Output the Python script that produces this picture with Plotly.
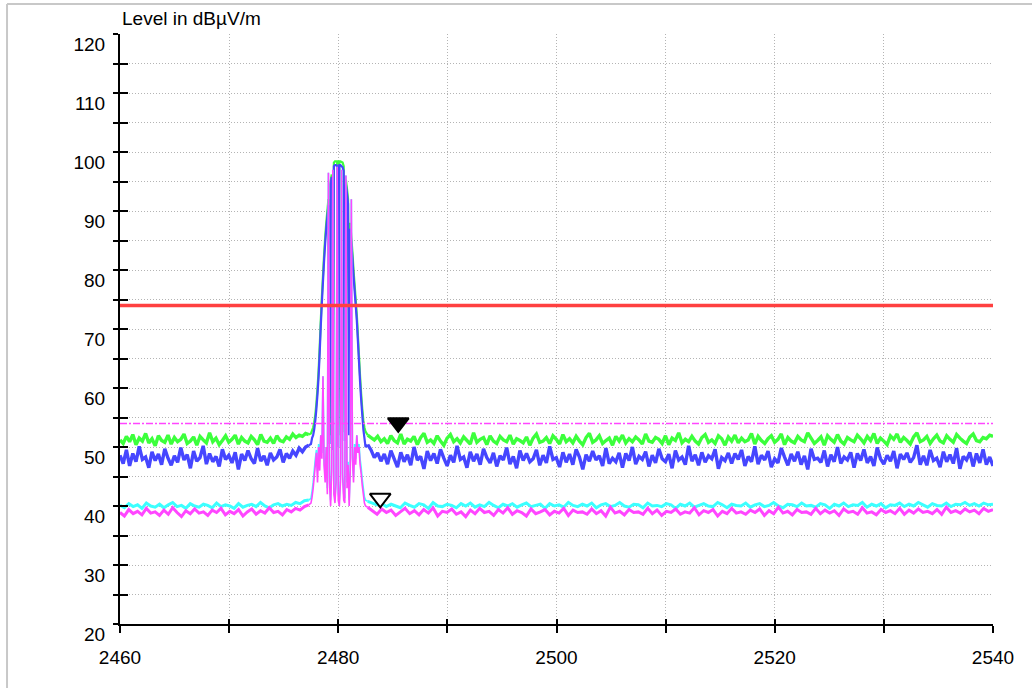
import numpy as np
import plotly.graph_objects as go

# ---------------- data ----------------
FREQ_START = 2460.0
FREQ_STOP = 2540.0
LEFT_END = 2477.3      # end of the noise floor left of the carrier
PEAK_START = 2477.5    # carrier region (0.1 MHz sweep points)
PEAK_END = 2482.5
RIGHT_START = 2482.7

limit_level = 74.0          # red limit line, dBuV/m
av_limit_level = 54.0       # dash-dot magenta line

marker_freq = [2485.5, 2483.85]
marker_level = [54.1, 41.3]

x_ticks_label = [2460, 2480, 2500, 2520, 2540]
y_ticks_label = [20, 30, 40, 50, 60, 70, 80, 90, 100, 110, 120]

# green trace (peak, max hold)
green_left = [
    51.2, 50.6, 51.8, 50.9, 52.1, 50.4, 51.5, 51.0, 52.3, 50.7,
    51.4, 50.2, 51.9, 51.1, 50.8, 52.0, 50.5, 51.6, 50.9, 51.3,
    52.2, 50.6, 51.0, 51.7, 50.3, 51.8, 51.2, 50.7, 52.4, 50.9,
    51.5, 50.4, 51.1, 51.9, 50.8, 51.3, 52.0, 50.5, 51.6, 51.0,
    50.7, 51.8, 51.2, 50.4, 52.1, 51.0, 50.8, 51.5, 50.6, 51.9,
    51.1, 50.9, 51.7, 51.3, 52.2, 51.6, 52.0, 51.8, 52.3, 52.1]
green_peak = [
    52.3, 52.8, 53.3, 54.2, 55.5, 57.5, 60.0, 63.0, 67.0, 71.5,
    75.5, 79.0, 82.5, 85.5, 88.0, 90.0, 92.0, 52.0, 95.0, 96.2,
    51.5, 98.2, 98.4, 98.4, 98.4, 52.0, 98.4, 98.4, 98.3, 98.2,
    97.6, 52.5, 95.3, 93.8, 92.0, 53.0, 88.0, 85.5, 83.0, 80.0,
    77.5, 75.0, 72.5, 69.0, 65.5, 62.0, 59.0, 56.5, 54.5, 53.3,
    52.6]
green_right = [
    52.0, 51.6, 51.2, 51.8, 50.9, 51.4, 50.6, 51.9, 51.1, 50.7,
    52.2, 50.5, 51.3, 51.0, 51.8, 50.4, 51.6, 52.3, 50.8, 51.2,
    50.6, 51.9, 51.0, 50.3, 51.5, 52.1, 50.9, 51.4, 50.7, 51.7,
    51.1, 50.5, 52.4, 50.8, 51.3, 51.6, 50.4, 51.9, 51.0, 50.6,
    51.8, 51.2, 50.9, 52.0, 50.5, 51.4, 51.1, 50.7, 51.7, 50.3,
    51.5, 52.2, 50.8, 51.0, 51.6, 50.6, 51.9, 51.3, 50.5, 52.1,
    50.9, 51.4, 50.7, 51.8, 51.0, 50.4, 51.6, 52.3, 50.8, 51.2,
    51.9, 50.6, 51.1, 51.5, 50.3, 51.8, 51.0, 52.0, 50.7, 51.4,
    50.9, 51.7, 51.2, 50.5, 52.2, 51.0, 50.8, 51.6, 51.3, 50.6,
    51.9, 50.4, 51.5, 51.1, 52.4, 50.7, 51.3, 50.9, 51.8, 51.0,
    50.5, 51.6, 52.1, 50.8, 51.2, 50.6, 51.9, 51.4, 50.3, 51.7,
    51.0, 52.0, 50.7, 51.5, 50.9, 51.2, 52.3, 50.5, 51.8, 51.1,
    50.6, 51.4, 51.9, 50.8, 51.3, 52.2, 50.4, 51.6, 51.0, 50.7,
    51.8, 51.2, 50.9, 52.4, 51.5, 50.6, 51.1, 51.7, 50.3, 51.9,
    51.3, 50.8, 52.1, 51.0, 50.5, 51.6, 51.2, 50.9, 52.0, 51.4,
    50.7, 51.8, 51.1, 52.3, 50.6, 51.5, 51.0, 50.4, 51.9, 51.3,
    52.2, 50.8, 51.6, 51.1, 50.5, 51.7, 52.4, 50.9, 51.2, 51.8,
    50.6, 51.4, 52.0, 51.0, 50.7, 51.9, 51.3, 50.8, 52.1, 51.5,
    51.0, 50.6, 51.7, 52.2, 51.1, 50.9, 51.6, 51.4, 52.0, 51.8]

# blue trace (peak, clear write)
blue_left = [
    48.6, 47.2, 49.5, 46.8, 48.9, 47.5, 50.1, 47.9, 48.3, 46.5,
    49.2, 47.7, 48.8, 47.0, 49.7, 48.1, 46.9, 48.5, 47.4, 49.9,
    47.8, 48.7, 46.4, 49.3, 47.6, 48.2, 50.2, 47.1, 48.9, 47.5,
    48.4, 46.7, 49.6, 47.9, 48.6, 47.3, 49.1, 46.2, 48.8, 47.7,
    49.4, 48.0, 47.2, 49.8, 47.6, 48.5, 46.9, 49.0, 47.8, 48.3,
    49.6, 47.4, 48.9, 48.1, 49.3, 48.6, 49.8, 49.2, 50.0, 50.3]
blue_peak = [
    50.5, 51.5, 52.0, 53.0, 54.5, 56.5, 59.0, 62.0, 66.0, 70.5,
    74.5, 78.0, 81.5, 84.5, 87.0, 89.0, 91.0, 50.5, 94.5, 95.8,
    49.5, 97.6, 97.8, 97.8, 97.6, 50.0, 97.8, 97.8, 97.6, 97.4,
    96.8, 51.0, 94.5, 93.0, 91.2, 52.0, 87.0, 84.5, 82.0, 79.0,
    76.5, 74.0, 71.5, 68.0, 64.5, 61.0, 58.0, 55.5, 53.0, 51.5,
    50.0]
blue_right = [
    50.4, 49.5, 48.2, 49.0, 47.6, 48.8, 47.1, 49.4, 48.0, 46.6,
    49.1, 47.5, 48.7, 46.9, 50.0, 47.8, 48.4, 46.3, 49.3, 47.7,
    48.9, 47.2, 49.6, 48.1, 46.8, 48.6, 47.4, 50.2, 47.9, 48.3,
    46.5, 49.2, 47.6, 48.8, 47.0, 49.7, 48.2, 47.3, 49.0, 46.7,
    48.5, 47.8, 49.9, 47.1, 48.4, 46.4, 49.4, 47.7, 48.9, 47.5,
    48.0, 49.5, 46.9, 48.6, 47.3, 50.1, 47.9, 48.2, 46.6, 49.1,
    47.4, 48.8, 47.0, 49.6, 48.3, 46.2, 48.7, 47.6, 49.3, 47.8,
    48.5, 46.8, 49.8, 47.2, 48.1, 47.5, 49.0, 46.5, 48.9, 47.7,
    50.0, 47.1, 48.4, 47.9, 49.2, 46.7, 48.6, 47.3, 49.7, 48.0,
    47.5, 48.8, 46.4, 49.4, 47.8, 48.3, 47.0, 50.2, 47.6, 48.7,
    46.9, 49.1, 47.4, 48.5, 48.0, 49.6, 46.3, 48.2, 47.7, 49.0,
    47.2, 48.9, 47.9, 49.5, 46.8, 48.4, 47.5, 50.1, 47.1, 48.6,
    47.8, 49.3, 46.6, 48.0, 47.3, 49.8, 48.3, 46.9, 48.8, 47.6,
    49.2, 47.0, 48.5, 46.2, 49.7, 47.9, 48.1, 47.4, 49.4, 46.7,
    48.7, 47.5, 50.0, 47.2, 48.3, 47.8, 49.1, 46.5, 48.9, 47.7,
    49.6, 47.3, 48.4, 46.8, 49.9, 48.0, 47.1, 48.6, 47.6, 49.3,
    46.4, 48.8, 47.9, 49.0, 47.4, 48.2, 50.3, 47.0, 48.5, 46.9,
    49.5, 47.7, 48.1, 46.6, 49.2, 47.5, 48.7, 47.2, 49.8, 46.3,
    48.4, 47.8, 49.1, 46.7, 48.9, 47.3, 49.6, 47.0, 48.3, 46.8]

# cyan trace (average, max hold)
cyan_left = [
    40.1, 39.7, 40.4, 39.9, 40.2, 39.6, 40.5, 40.0, 39.8, 40.3,
    39.7, 40.2, 40.6, 39.9, 40.1, 39.6, 40.4, 40.0, 39.8, 40.3,
    40.1, 39.7, 40.5, 39.9, 40.2, 40.0, 39.6, 40.4, 39.8, 40.1,
    40.3, 39.9, 40.6, 40.0, 39.7, 40.2, 40.4, 40.0, 40.3, 40.1,
    40.6, 40.4, 40.9, 41.0]
cyan_peak = [
    41.3, 42.5, 44.0, 46.0, 48.0, 49.5, 46.0, 50.5, 48.0, 52.0,
    49.0, 62.0, 48.0, 45.0, 50.0, 43.0, 96.5, 45.0, 41.0, 46.5,
    97.0, 43.0, 41.3, 44.5, 97.5, 42.0, 41.0, 44.5, 97.0, 45.5,
    42.0, 41.3, 96.0, 44.0, 47.5, 41.0, 46.5, 92.0, 48.5, 45.0,
    50.5, 48.0, 52.0, 49.5, 50.5, 48.0, 46.5, 44.5, 43.0, 41.5,
    41.0]
cyan_right = [
    40.8, 40.5, 40.2, 40.4, 39.9, 40.3, 40.0, 39.7, 40.5, 40.1,
    39.8, 40.4, 40.2, 39.6, 40.6, 40.0, 39.9, 40.3, 40.1, 39.7,
    40.4, 40.0, 40.5, 39.8, 40.2, 39.9, 40.6, 40.1, 39.7, 40.3,
    40.0, 40.4, 39.8, 40.2, 40.5, 39.9, 40.1, 40.3, 39.6, 40.4,
    40.0, 40.2, 39.8, 40.6, 40.1, 39.9, 40.3, 40.0, 40.5, 39.7,
    40.2, 40.4, 39.9, 40.1, 40.6, 40.0, 39.8, 40.3, 40.2, 39.7,
    40.5, 40.0, 40.1, 39.9, 40.4, 40.2, 39.6, 40.3, 40.0, 40.5,
    39.8, 40.1, 40.4, 40.0, 39.9, 40.6, 40.2, 39.7, 40.3, 40.1,
    40.0, 40.5, 39.8, 40.2, 40.4, 39.9, 40.1, 40.6, 40.0, 39.7,
    40.3, 40.2, 39.9, 40.5, 40.0, 40.1, 39.8, 40.4, 40.2, 39.6,
    40.3, 40.0, 40.5, 39.9, 40.2, 40.1, 40.6, 39.8, 40.3, 40.0,
    40.4, 39.7, 40.2, 40.1, 40.5, 39.9, 40.3, 40.0, 40.6, 40.2,
    39.8, 40.4, 40.1, 40.0, 40.5, 39.9, 40.3, 40.2, 40.6, 40.1,
    40.4, 40.0, 40.5, 40.2, 40.3]

# magenta trace (average, clear write)
magenta_left = [
    38.9, 38.3, 39.4, 38.7, 39.1, 38.5, 39.6, 38.8, 39.0, 38.4,
    39.3, 38.6, 39.7, 38.9, 38.2, 39.2, 38.7, 39.5, 38.8, 39.0,
    38.4, 39.3, 38.9, 39.6, 38.5, 39.1, 38.7, 39.4, 38.3, 39.0,
    39.5, 38.6, 39.2, 38.8, 39.7, 38.9, 39.1, 38.5, 39.4, 39.0,
    39.6, 39.3, 39.9, 40.2]
magenta_peak = [
    40.5, 41.5, 43.0, 45.0, 47.0, 49.0, 44.0, 50.0, 46.0, 52.0,
    48.0, 62.0, 47.0, 44.0, 50.0, 42.0, 96.5, 44.0, 40.0, 46.0,
    97.0, 42.0, 40.5, 44.0, 97.5, 41.0, 40.0, 44.0, 97.0, 45.0,
    41.0, 40.5, 96.0, 43.0, 47.0, 40.0, 46.0, 92.0, 48.0, 44.0,
    50.0, 47.0, 52.0, 49.0, 50.0, 47.0, 45.5, 43.5, 42.0, 40.5,
    40.0]
magenta_right = [
    39.8, 39.2, 38.6, 39.5, 38.9, 39.3, 38.4, 39.0, 39.6, 38.7,
    39.2, 38.5, 39.4, 38.8, 39.7, 38.3, 39.1, 38.9, 39.5, 38.6,
    39.0, 38.2, 39.3, 38.7, 39.6, 38.9, 39.1, 38.4, 39.4, 38.8,
    39.7, 38.6, 39.2, 38.9, 38.3, 39.5, 38.7, 39.0, 39.4, 38.5,
    39.1, 38.8, 39.6, 38.4, 39.3, 38.9, 39.0, 38.6, 39.5, 38.7,
    39.2, 38.3, 39.8, 38.8, 39.1, 38.5, 39.4, 38.9, 39.0, 38.6,
    39.6, 38.7, 39.3, 38.4, 39.1, 38.9, 39.5, 38.6, 39.0, 38.8,
    39.7, 38.5, 39.2, 38.9, 39.4, 38.3, 39.1, 38.7, 39.6, 38.8,
    39.0, 38.6, 39.3, 38.9, 39.5, 38.4, 39.2, 38.7, 39.8, 38.8,
    39.1, 38.5, 39.4, 38.9, 39.0, 38.6, 39.6, 38.7, 39.3, 38.8,
    39.2, 38.4, 39.5, 38.9, 39.1, 38.6, 39.7, 38.8, 39.0, 38.5,
    39.4, 38.9, 39.2, 38.7, 39.6, 38.6, 39.3, 38.8, 39.5, 38.9,
    39.1, 38.7, 39.4, 38.6, 39.8, 38.9, 39.2, 38.8, 39.5, 39.0,
    39.3, 38.7, 39.6, 39.1, 39.4]


def sweep_segments(left, peak, right):
    """Frequencies of the sweep points: noise floor (with a gap for the
    carrier) and the carrier region, joined at their end points."""
    xl = np.linspace(FREQ_START, LEFT_END, len(left))
    xp = np.linspace(PEAK_START, PEAK_END, len(peak))
    xr = np.linspace(RIGHT_START, FREQ_STOP, len(right))
    noise_x = np.concatenate([xl, [np.nan], xr])
    noise_y = np.concatenate([left, [np.nan], right])
    peak_x = np.concatenate([[xl[-1]], xp, [xr[0]]])
    peak_y = np.concatenate([[left[-1]], peak, [right[0]]])
    return (noise_x, noise_y), (peak_x, peak_y)


FONT = "Liberation Sans, Arial, Helvetica, sans-serif"
GRID = "#b4b4b4"

fig = go.Figure()

traces = [
    (green_left, green_peak, green_right, "#3cff3c", 3.4, 2.2),
    (blue_left, blue_peak, blue_right, "#4646ff", 3.4, 2.2),
    (cyan_left, cyan_peak, cyan_right, "#3cffff", 3.0, 1.6),
    (magenta_left, magenta_peak, magenta_right, "#ff46ff", 3.0, 1.6),
]
for left, peak, right, col, w_noise, w_peak in traces:
    (nx, ny), (px, py) = sweep_segments(left, peak, right)
    fig.add_trace(go.Scatter(x=nx, y=ny, mode="lines", connectgaps=False,
                             line=dict(color=col, width=w_noise, simplify=False),
                             hoverinfo="skip", showlegend=False))
    fig.add_trace(go.Scatter(x=px, y=py, mode="lines",
                             line=dict(color=col, width=w_peak, simplify=False),
                             hoverinfo="skip", showlegend=False))

# overlay layer: limit lines and markers (drawn on top)
fig.add_trace(go.Scatter(x=[FREQ_START, FREQ_STOP], y=[av_limit_level] * 2,
                         mode="lines", xaxis="x2", yaxis="y2",
                         line=dict(color="#ff46ff", width=1.5, dash="7px,2px,2px,2px"),
                         showlegend=False, hoverinfo="skip"))
fig.add_trace(go.Scatter(x=[FREQ_START, FREQ_STOP], y=[limit_level] * 2,
                         mode="lines", xaxis="x2", yaxis="y2",
                         line=dict(color="#ff4040", width=3.5),
                         showlegend=False, hoverinfo="skip"))
fig.add_trace(go.Scatter(x=marker_freq, y=marker_level, mode="markers",
                         xaxis="x2", yaxis="y2",
                         marker=dict(symbol="triangle-down", size=18,
                                     color=["black", "white"],
                                     line=dict(color="black", width=2)),
                         showlegend=False, hoverinfo="skip"))

common_x = dict(range=[FREQ_START, FREQ_STOP], autorange=False, zeroline=False)
common_y = dict(range=[20, 120], autorange=False, zeroline=False)
GRID_DASH = "1px,2px"

fig.update_layout(
    width=1032, height=688,
    margin=dict(l=120, r=39, t=34, b=64, pad=0),
    paper_bgcolor="white", plot_bgcolor="white",
    font=dict(family=FONT, color="black"),
    xaxis=dict(**common_x,
               tickmode="array", tickvals=x_ticks_label,
               ticktext=[str(v) for v in x_ticks_label],
               ticks="outside", ticklen=7, tickwidth=2, tickcolor="black",
               showline=True, linewidth=2, linecolor="black",
               showgrid=True, gridcolor=GRID, griddash=GRID_DASH, gridwidth=1,
               minor=dict(dtick=10, tick0=2460, ticks="outside", ticklen=7,
                          tickwidth=2, tickcolor="black", showgrid=True,
                          gridcolor=GRID, griddash=GRID_DASH, gridwidth=1),
               tickfont=dict(size=19, family=FONT, color="black"),
               ticklabelstandoff=8),
    xaxis2=dict(**common_x, overlaying="x", anchor="y2", side="bottom",
                dtick=10, tick0=2460, ticks="inside", ticklen=5, tickwidth=2,
                tickcolor="black", showticklabels=False, showgrid=False,
                showline=False),
    yaxis=dict(**common_y,
               tickmode="array", tickvals=y_ticks_label,
               ticktext=[str(v) for v in y_ticks_label],
               ticks="outside", ticklen=5, tickwidth=2, tickcolor="black",
               showline=True, linewidth=2, linecolor="black",
               showgrid=True, gridcolor=GRID, griddash=GRID_DASH, gridwidth=1,
               minor=dict(dtick=5, tick0=20, ticks="outside", ticklen=5,
                          tickwidth=2, tickcolor="black", showgrid=True,
                          gridcolor=GRID, griddash=GRID_DASH, gridwidth=1),
               tickfont=dict(size=19, family=FONT, color="black"),
               ticklabelshift=10, ticklabelstandoff=4),
    yaxis2=dict(**common_y, overlaying="y", anchor="x2", side="left",
                dtick=5, tick0=20, ticks="inside", ticklen=8, tickwidth=2,
                tickcolor="black", showticklabels=False, showgrid=False,
                showline=False),
    annotations=[dict(text="Level in dBµV/m", xref="paper", yref="paper",
                      x=0, y=1.0262, xanchor="left", yanchor="middle",
                      showarrow=False, font=dict(size=19, family=FONT, color="black"))],
    shapes=[
        dict(type="line", xref="paper", yref="paper", x0=-0.1294, x1=-0.1294,
             y0=-0.2, y1=1.0508, line=dict(color="#c8c8c8", width=2)),
        dict(type="line", xref="paper", yref="paper", x0=-0.1294, x1=1.1,
             y0=1.0508, y1=1.0508, line=dict(color="#c8c8c8", width=2)),
    ],
)

fig.write_html("out.html",
               config={"displayModeBar": False},
               post_script="document.body.style.margin='0';"
                           "document.body.style.overflow='hidden';")
